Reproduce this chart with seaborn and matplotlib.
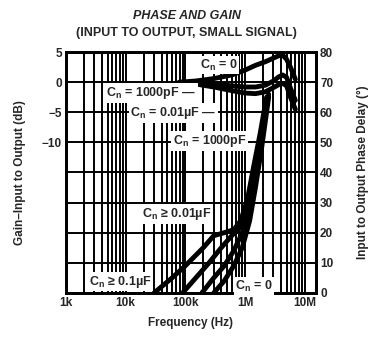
import numpy as np
import pandas as pd
import seaborn as sns
import matplotlib
matplotlib.use("Agg")
from matplotlib import pyplot as plt
from matplotlib.ticker import LogLocator, NullFormatter

# Gain curves (dB, left axis)
f_gain = [80e3, 150e3, 300e3, 600e3, 1e6, 1.5e6, 2.2e6, 3e6, 3.7e6, 4.3e6, 5.0e6, 5.8e6, 7e6]
gain_c0 = [0, 0.2, 0.6, 1.2, 2.0, 2.8, 3.4, 4.0, 4.4, 4.5, 3.8, 2.5, 0.5]
gain_1000p = [0, -0.1, -0.3, -0.6, -0.8, -0.8, -0.5, 0.2, 0.9, 1.2, 0.8, -1.0, -3.0]
gain_001u = [0, -0.3, -0.8, -1.4, -1.8, -1.9, -1.6, -0.9, -0.4, -0.2, -0.6, -2.5, -4.5]

# Phase delay curves (degrees, right axis)
f_ph_01u = [30e3, 60e3, 100e3, 200e3, 300e3, 450e3, 650e3, 850e3, 1.1e6, 1.4e6, 1.8e6, 2.3e6]
ph_01u = [0, 5, 9, 15, 19, 20, 21, 24, 31, 42, 53, 65]
f_ph_001u = [90e3, 150e3, 250e3, 400e3, 600e3, 850e3, 1.1e6, 1.4e6, 1.8e6, 2.4e6]
ph_001u = [0, 5, 10, 15, 19, 22, 28, 38, 50, 65]
f_ph_1000p = [190e3, 300e3, 450e3, 650e3, 900e3, 1.2e6, 1.5e6, 1.9e6, 2.5e6]
ph_1000p = [0, 5, 9, 14, 20, 29, 40, 52, 66]
f_ph_c0 = [300e3, 450e3, 650e3, 900e3, 1.2e6, 1.5e6, 1.9e6, 2.5e6]
ph_c0 = [0, 4, 9, 15, 24, 35, 48, 65]

x_ticks = [1e3, 1e4, 1e5, 1e6, 1e7]
x_labels = ['1k', '10k', '100k', '1M', '10M']
gain_ticks = [5, 0, -5, -10]
phase_ticks = [0, 10, 20, 30, 40, 50, 60, 70, 80]

sns.set_style("white")
plt.rcParams['font.family'] = ['Liberation Sans', 'DejaVu Sans']
plt.rcParams['mathtext.fontset'] = 'custom'
plt.rcParams['mathtext.rm'] = 'Liberation Sans:bold'
plt.rcParams['mathtext.it'] = 'Liberation Sans:bold'

fig = plt.figure(figsize=(3.73, 3.45), dpi=100)
ax = fig.add_axes([0.177, 0.151, 0.670, 0.698])
ax2 = ax.twinx()

ax.set_xscale('log')
ax.set_xlim(1e3, 1.55e7)
ax.set_ylim(-35, 5)
ax2.set_ylim(0, 80)

# gain curves
for g in [gain_c0, gain_1000p, gain_001u]:
    sns.lineplot(x=f_gain, y=g, ax=ax, color='black', lw=3.5, solid_capstyle='round')

# phase curves
for f, p in [(f_ph_01u, ph_01u), (f_ph_001u, ph_001u), (f_ph_1000p, ph_1000p), (f_ph_c0, ph_c0)]:
    sns.lineplot(x=f, y=p, ax=ax2, color='black', lw=3.5, solid_capstyle='round')

# grid
ax.xaxis.set_minor_locator(LogLocator(base=10, subs=range(2, 10)))
ax.xaxis.set_minor_formatter(NullFormatter())
ax.grid(which='both', axis='x', color='black', lw=1.4)
ax.grid(False, axis='y')
ax2.set_yticks(phase_ticks)
ax2.grid(True, axis='y', color='black', lw=1.4)
ax2.grid(False, axis='x')

ax.set_xticks(x_ticks)
ax.set_xticklabels(x_labels)
ax.set_yticks(gain_ticks)
ax.set_yticklabels(['5', '0', '\u22125', '\u221210'])

for a in [ax, ax2]:
    a.tick_params(which='both', length=0, labelsize=8.5, pad=3)
    for lab in a.get_xticklabels() + a.get_yticklabels():
        lab.set_fontweight('bold')
    for s in a.spines.values():
        s.set_linewidth(2)
        s.set_color('black')

ax.set_xlabel('Frequency (Hz)', fontsize=8.5, fontweight='bold', labelpad=6)
ax.set_ylabel('Gain\u2013Input to Output (dB)', fontsize=8.5, fontweight='bold', labelpad=11)
ax2.set_ylabel('Input to Output Phase Delay (\u00b0)', fontsize=8.5, fontweight='bold', labelpad=17)
ax2.set_xlabel('')

fig.text(0.5, 0.955, 'PHASE AND GAIN', ha='center', va='center', fontsize=9,
         fontweight='bold', fontstyle='italic')
fig.text(0.5, 0.905, '(INPUT TO OUTPUT, SMALL SIGNAL)', ha='center', va='center',
         fontsize=9, fontweight='bold')

box = dict(fc='white', ec='none', pad=1.2)
labels = [
    (362e3, 75.7, 'C$_\\mathrm{n}$ = 0'),
    (27e3, 66.4, 'C$_\\mathrm{n}$ = 1000pF \u2014'),
    (63e3, 59.8, 'C$_\\mathrm{n}$ = 0.01\u00b5F \u2014'),
    (255e3, 50.5, 'C$_\\mathrm{n}$ = 1000pF'),
    (73e3, 26.2, 'C$_\\mathrm{n}$ \u2265 0.01\u00b5F'),
    (8.2e3, 3.7, 'C$_\\mathrm{n}$ \u2265 0.1\u00b5F'),
    (1.42e6, 2.2, 'C$_\\mathrm{n}$ = 0'),
]
for x, y, t in labels:
    ax2.text(x, y, t, ha='center', va='center', fontsize=9,
             fontweight='bold', bbox=box, zorder=10)

plt.savefig('out.png', dpi=100)
